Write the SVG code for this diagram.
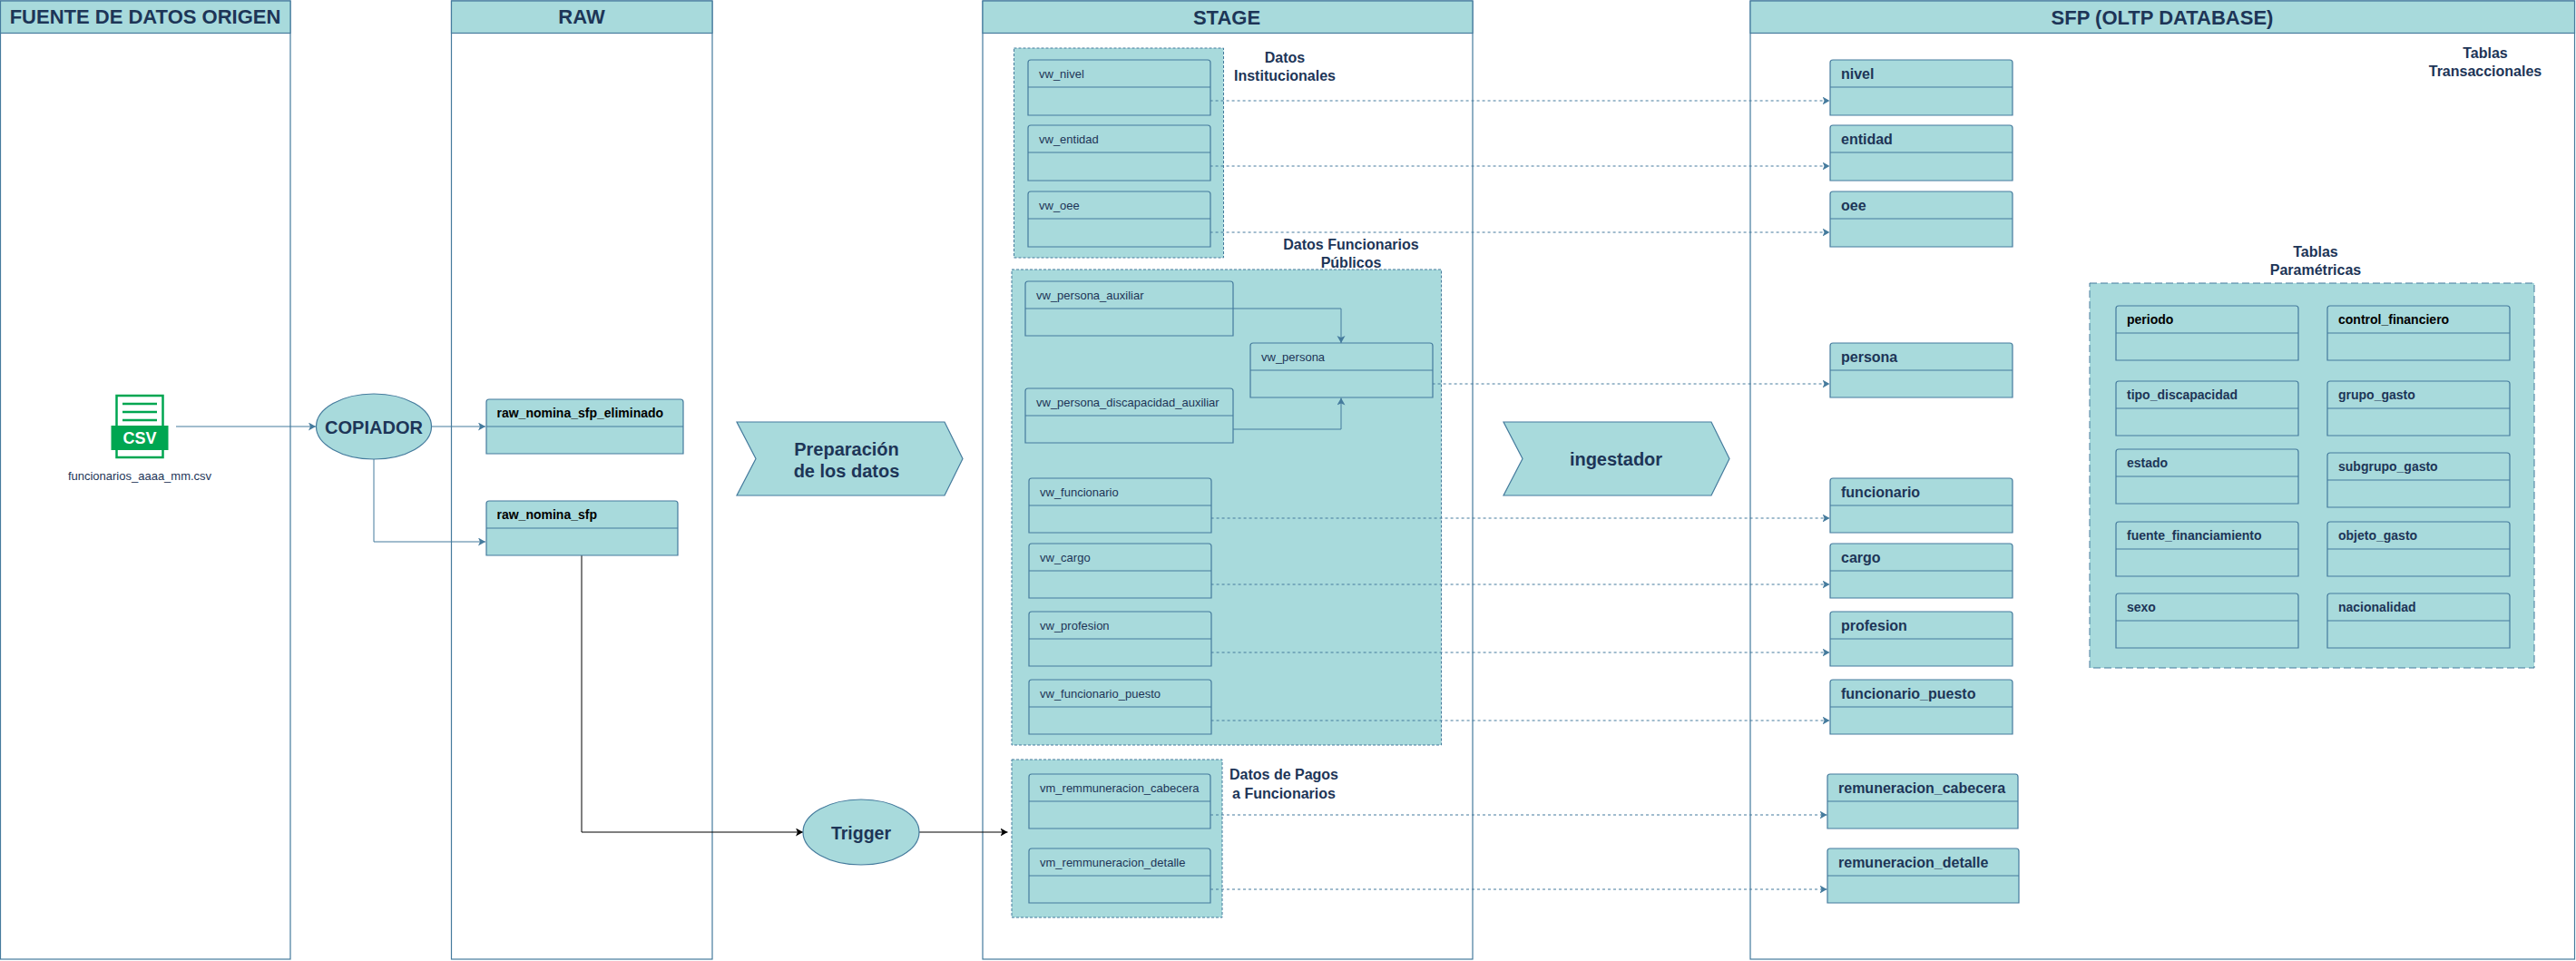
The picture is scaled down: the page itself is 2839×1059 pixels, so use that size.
<svg xmlns="http://www.w3.org/2000/svg" width="2839" height="1059" viewBox="0 0 2839 1059">
<style>
text{font-family:"Liberation Sans",Arial,sans-serif;fill:#1D3557}
.f{fill:#A8DADC;stroke:#457B9D;stroke-width:1.2}
.l{fill:#fff;stroke:#457B9D;stroke-width:1.2}
.d{fill:none;stroke:#457B9D;stroke-width:1}
.g{fill:#A8DADC;stroke:#457B9D;stroke-width:1;stroke-dasharray:3 2}
.g2{stroke-dasharray:8 4}
.t{font-size:22px;font-weight:700;text-anchor:middle}
.v{font-size:13px}
.b{font-size:16px;font-weight:700}
.p{font-size:14px;font-weight:700}
.k{fill:#000}
.c{font-size:16px;font-weight:700;text-anchor:middle}
.m{font-size:20px;font-weight:700;text-anchor:middle}
.s{fill:none;stroke:#457B9D;stroke-width:1;marker-end:url(#a)}
.o{stroke-dasharray:3 3}
.x{fill:none;stroke:#000;stroke-width:1;marker-end:url(#k)}
.i{fill:none;stroke:#00A651;stroke-width:2.5}
</style>
<defs>
<marker id="a" markerUnits="userSpaceOnUse" markerWidth="9" markerHeight="10" refX="8" refY="4.5" orient="auto"><path d="M8 4.5L0 0L2 4.5L0 9Z" fill="#457B9D"/></marker>
<marker id="k" markerUnits="userSpaceOnUse" markerWidth="9" markerHeight="10" refX="8" refY="4.5" orient="auto"><path d="M8 4.5L0 0L2 4.5L0 9Z" fill="#000"/></marker>
</defs>
<g id="lanes">
<g id="lane-fuente"><rect class="l" x="0.5" y="1" width="319.5" height="1056"/><rect class="f" x="0.5" y="1" width="319.5" height="35.5"/><text class="t" x="160" y="26">FUENTE DE DATOS ORIGEN</text></g>
<g id="lane-raw"><rect class="l" x="497.5" y="1" width="287.5" height="1056"/><rect class="f" x="497.5" y="1" width="287.5" height="35.5"/><text class="t" x="641" y="26">RAW</text></g>
<g id="lane-stage"><rect class="l" x="1083" y="1" width="540" height="1056"/><rect class="f" x="1083" y="1" width="540" height="35.5"/><text class="t" x="1352" y="27">STAGE</text></g>
<g id="lane-sfp"><rect class="l" x="1929" y="1" width="908.5" height="1056"/><rect class="f" x="1929" y="1" width="908.5" height="35.5"/><text class="t" x="2383" y="27">SFP (OLTP DATABASE)</text></g>
</g>
<g id="groups">
<rect id="grupo-institucionales" class="g" x="1117.5" y="53" width="231" height="231"/>
<rect id="grupo-funcionarios" class="g" x="1115" y="297" width="473.5" height="524"/>
<rect id="grupo-pagos" class="g" x="1115" y="837" width="232" height="174"/>
<rect id="grupo-parametricas" class="g g2" x="2303" y="312" width="490" height="424"/>
</g>
<g id="connectors">
<path class="s" d="M194 470H348"/>
<path class="s" d="M475 470H535"/>
<path class="s" d="M412 506V597H535"/>
<path class="x" d="M641 612V917H885"/>
<path class="x" d="M1013 917H1110.5"/>
<path class="s" d="M1358.6 340H1478V378"/>
<path class="s" d="M1358.6 473H1478V438.5"/>
<path class="s o" d="M1333.6 111H2016.5"/>
<path class="s o" d="M1333.6 183H2016.5"/>
<path class="s o" d="M1333.6 256H2016.5"/>
<path class="s o" d="M1578.6 423H2016.5"/>
<path class="s o" d="M1334.6 571H2016.5"/>
<path class="s o" d="M1334.6 644H2016.5"/>
<path class="s o" d="M1334.6 719H2016.5"/>
<path class="s o" d="M1334.6 794H2016.5"/>
<path class="s o" d="M1334 898H2013.5"/>
<path class="s o" d="M1334 980H2013.5"/>
</g>
<g id="csv-file">
<rect class="i" x="128.5" y="436" width="51" height="68" fill="#fff"/>
<path class="i" d="M135 445H173M135 454H173M135 463H173"/>
<rect x="122.5" y="469" width="63" height="27" fill="#00A651"/>
<text x="154" y="489" font-size="18" font-weight="700" text-anchor="middle" style="fill:#fff">CSV</text>
<text x="154" y="529" font-size="13" text-anchor="middle">funcionarios_aaaa_mm.csv</text>
</g>
<g id="copiador"><ellipse class="f" cx="412" cy="470" rx="63.5" ry="36"/><text class="m" x="412" y="477.5">COPIADOR</text></g>
<g id="raw_nomina_sfp_eliminado"><path class="f" d="M536 500V443Q536 440 539 440H750Q753 440 753 443V500Z"/><path class="d" d="M536 470H753"/><text class="p k" x="547.5" y="460">raw_nomina_sfp_eliminado</text></g>
<g id="raw_nomina_sfp"><path class="f" d="M536 612V555Q536 552 539 552H744Q747 552 747 555V612Z"/><path class="d" d="M536 582H747"/><text class="p k" x="547.5" y="572">raw_nomina_sfp</text></g>
<g id="trigger"><ellipse class="f" cx="949" cy="917" rx="64" ry="36"/><text class="m" x="949" y="925" style="font-size:19.5px">Trigger</text></g>
<g id="preparacion"><path class="f" d="M812 465H1041L1061 505.5L1041 546H812L833 505.5Z"/><text class="m" x="933" y="501.5">Preparación</text><text class="m" x="933" y="526">de los datos</text></g>
<g id="ingestador"><path class="f" d="M1657 465H1886L1906 505.5L1886 546H1657L1678 505.5Z"/><text class="m" x="1781" y="513">ingestador</text></g>
<g id="label-institucionales"><text class="c" x="1416" y="69">Datos</text><text class="c" x="1416" y="89">Institucionales</text></g>
<g id="label-funcionarios"><text class="c" x="1489" y="275">Datos Funcionarios</text><text class="c" x="1489" y="295">Públicos</text></g>
<g id="label-pagos"><text class="c" x="1415" y="859">Datos de Pagos</text><text class="c" x="1415" y="880">a Funcionarios</text></g>
<g id="label-transaccionales"><text class="c" x="2739" y="64">Tablas</text><text class="c" x="2739" y="84">Transaccionales</text></g>
<g id="label-parametricas"><text class="c" x="2552" y="283">Tablas</text><text class="c" x="2552" y="303">Paramétricas</text></g>
<g id="vw_nivel"><path class="f" d="M1133 127V69Q1133 66 1136 66H1331Q1334 66 1334 69V127Z"/><path class="d" d="M1133 96H1334"/><text class="v" x="1145" y="86">vw_nivel</text></g>
<g id="vw_entidad"><path class="f" d="M1133 199V141Q1133 138 1136 138H1331Q1334 138 1334 141V199Z"/><path class="d" d="M1133 168H1334"/><text class="v" x="1145" y="158">vw_entidad</text></g>
<g id="vw_oee"><path class="f" d="M1133 272V214Q1133 211 1136 211H1331Q1334 211 1334 214V272Z"/><path class="d" d="M1133 241H1334"/><text class="v" x="1145" y="231">vw_oee</text></g>
<g id="vw_persona_auxiliar"><path class="f" d="M1130 370V313Q1130 310 1133 310H1356Q1359 310 1359 313V370Z"/><path class="d" d="M1130 340H1359"/><text class="v" x="1142" y="330">vw_persona_auxiliar</text></g>
<g id="vw_persona"><path class="f" d="M1378 438V381Q1378 378 1381 378H1576Q1579 378 1579 381V438Z"/><path class="d" d="M1378 408H1579"/><text class="v" x="1390" y="398">vw_persona</text></g>
<g id="vw_persona_discapacidad_auxiliar"><path class="f" d="M1130 488V431Q1130 428 1133 428H1356Q1359 428 1359 431V488Z"/><path class="d" d="M1130 458H1359"/><text class="v" x="1142" y="448">vw_persona_discapacidad_auxiliar</text></g>
<g id="vw_funcionario"><path class="f" d="M1134 587V530Q1134 527 1137 527H1332Q1335 527 1335 530V587Z"/><path class="d" d="M1134 557H1335"/><text class="v" x="1146" y="547">vw_funcionario</text></g>
<g id="vw_cargo"><path class="f" d="M1134 659V602Q1134 599 1137 599H1332Q1335 599 1335 602V659Z"/><path class="d" d="M1134 629H1335"/><text class="v" x="1146" y="619">vw_cargo</text></g>
<g id="vw_profesion"><path class="f" d="M1134 734V677Q1134 674 1137 674H1332Q1335 674 1335 677V734Z"/><path class="d" d="M1134 704H1335"/><text class="v" x="1146" y="694">vw_profesion</text></g>
<g id="vw_funcionario_puesto"><path class="f" d="M1134 809V752Q1134 749 1137 749H1332Q1335 749 1335 752V809Z"/><path class="d" d="M1134 779H1335"/><text class="v" x="1146" y="769">vw_funcionario_puesto</text></g>
<g id="vm_remmuneracion_cabecera"><path class="f" d="M1134 913V856Q1134 853 1137 853H1331Q1334 853 1334 856V913Z"/><path class="d" d="M1134 883H1334"/><text class="v" x="1146" y="873">vm_remmuneracion_cabecera</text></g>
<g id="vm_remmuneracion_detalle"><path class="f" d="M1134 995V938Q1134 935 1137 935H1331Q1334 935 1334 938V995Z"/><path class="d" d="M1134 965H1334"/><text class="v" x="1146" y="955">vm_remmuneracion_detalle</text></g>
<g id="nivel"><path class="f" d="M2017 127V69Q2017 66 2020 66H2215Q2218 66 2218 69V127Z"/><path class="d" d="M2017 96H2218"/><text class="b" x="2029" y="87">nivel</text></g>
<g id="entidad"><path class="f" d="M2017 199V141Q2017 138 2020 138H2215Q2218 138 2218 141V199Z"/><path class="d" d="M2017 168H2218"/><text class="b" x="2029" y="159">entidad</text></g>
<g id="oee"><path class="f" d="M2017 272V214Q2017 211 2020 211H2215Q2218 211 2218 214V272Z"/><path class="d" d="M2017 241H2218"/><text class="b" x="2029" y="232">oee</text></g>
<g id="persona"><path class="f" d="M2017 438V381Q2017 378 2020 378H2215Q2218 378 2218 381V438Z"/><path class="d" d="M2017 408H2218"/><text class="b" x="2029" y="399">persona</text></g>
<g id="funcionario"><path class="f" d="M2017 587V530Q2017 527 2020 527H2215Q2218 527 2218 530V587Z"/><path class="d" d="M2017 557H2218"/><text class="b" x="2029" y="548">funcionario</text></g>
<g id="cargo"><path class="f" d="M2017 659V602Q2017 599 2020 599H2215Q2218 599 2218 602V659Z"/><path class="d" d="M2017 629H2218"/><text class="b" x="2029" y="620">cargo</text></g>
<g id="profesion"><path class="f" d="M2017 734V677Q2017 674 2020 674H2215Q2218 674 2218 677V734Z"/><path class="d" d="M2017 704H2218"/><text class="b" x="2029" y="695">profesion</text></g>
<g id="funcionario_puesto"><path class="f" d="M2017 809V752Q2017 749 2020 749H2215Q2218 749 2218 752V809Z"/><path class="d" d="M2017 779H2218"/><text class="b" x="2029" y="770">funcionario_puesto</text></g>
<g id="remuneracion_cabecera"><path class="f" d="M2014 913V856Q2014 853 2017 853H2221Q2224 853 2224 856V913Z"/><path class="d" d="M2014 883H2224"/><text class="b" x="2026" y="874">remuneracion_cabecera</text></g>
<g id="remuneracion_detalle"><path class="f" d="M2014 995V938Q2014 935 2017 935H2222Q2225 935 2225 938V995Z"/><path class="d" d="M2014 965H2225"/><text class="b" x="2026" y="956">remuneracion_detalle</text></g>
<g id="periodo"><path class="f" d="M2332 397V340Q2332 337 2335 337H2530Q2533 337 2533 340V397Z"/><path class="d" d="M2332 367H2533"/><text class="p k" x="2344" y="357">periodo</text></g>
<g id="control_financiero"><path class="f" d="M2565 397V340Q2565 337 2568 337H2763Q2766 337 2766 340V397Z"/><path class="d" d="M2565 367H2766"/><text class="p k" x="2577" y="357">control_financiero</text></g>
<g id="tipo_discapacidad"><path class="f" d="M2332 480V423Q2332 420 2335 420H2530Q2533 420 2533 423V480Z"/><path class="d" d="M2332 450H2533"/><text class="p" x="2344" y="440">tipo_discapacidad</text></g>
<g id="grupo_gasto"><path class="f" d="M2565 480V423Q2565 420 2568 420H2763Q2766 420 2766 423V480Z"/><path class="d" d="M2565 450H2766"/><text class="p" x="2577" y="440">grupo_gasto</text></g>
<g id="estado"><path class="f" d="M2332 555V498Q2332 495 2335 495H2530Q2533 495 2533 498V555Z"/><path class="d" d="M2332 525H2533"/><text class="p" x="2344" y="515">estado</text></g>
<g id="subgrupo_gasto"><path class="f" d="M2565 559V502Q2565 499 2568 499H2763Q2766 499 2766 502V559Z"/><path class="d" d="M2565 529H2766"/><text class="p" x="2577" y="519">subgrupo_gasto</text></g>
<g id="fuente_financiamiento"><path class="f" d="M2332 635V578Q2332 575 2335 575H2530Q2533 575 2533 578V635Z"/><path class="d" d="M2332 605H2533"/><text class="p" x="2344" y="595">fuente_financiamiento</text></g>
<g id="objeto_gasto"><path class="f" d="M2565 635V578Q2565 575 2568 575H2763Q2766 575 2766 578V635Z"/><path class="d" d="M2565 605H2766"/><text class="p" x="2577" y="595">objeto_gasto</text></g>
<g id="sexo"><path class="f" d="M2332 714V657Q2332 654 2335 654H2530Q2533 654 2533 657V714Z"/><path class="d" d="M2332 684H2533"/><text class="p" x="2344" y="674">sexo</text></g>
<g id="nacionalidad"><path class="f" d="M2565 714V657Q2565 654 2568 654H2763Q2766 654 2766 657V714Z"/><path class="d" d="M2565 684H2766"/><text class="p" x="2577" y="674">nacionalidad</text></g>
</svg>
